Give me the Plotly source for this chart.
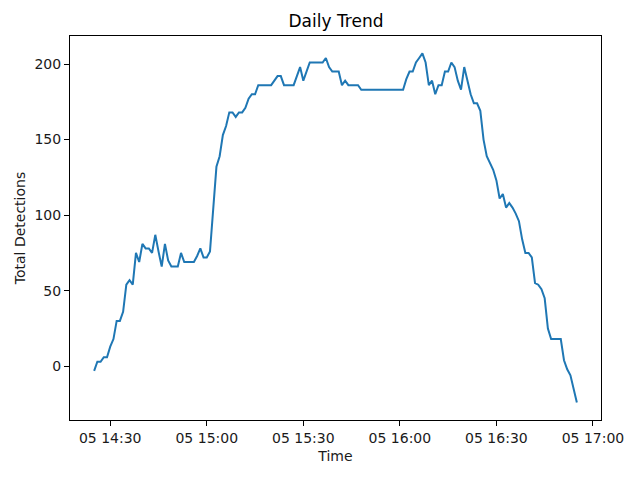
import pandas as pd
import plotly.graph_objects as go

start_time = "2024-03-05 14:25"
detections = [
    -3, 3, 3, 6, 6, 13, 18, 30, 30, 36,
    54, 57, 54, 75, 69, 81, 78, 78, 75, 87,
    76, 66, 81, 70, 66, 66, 66, 75, 69, 69,
    69, 69, 73, 78, 72, 72,
    76, 105, 132, 139, 153, 159, 168, 168, 165, 168,
    168, 171, 177, 180, 180, 186, 186, 186, 186, 186,
    189, 192, 192, 186, 186, 186, 186, 192, 198, 189,
    195, 201, 201, 201, 201, 201, 204, 198, 195, 195,
    195, 186, 189, 186, 186, 186, 186, 183,
    183, 183, 183, 183, 183, 183, 183, 183, 183, 183, 183, 183, 183,
    190, 195, 195, 201, 204, 207, 201, 186, 189, 180,
    186, 186, 195, 195, 201, 198, 189, 183, 198, 189,
    180, 174, 174, 169, 150, 139, 135, 130, 123, 111,
    114, 105, 108, 105, 101, 96, 84, 75, 75, 72,
    55, 54, 51, 45, 25, 18, 18, 18, 18, 4,
    -2, -6, -15, -24,
]
times = pd.date_range(start_time, periods=len(detections), freq="min")

x_tick_vals = ["2024-03-05 14:30", "2024-03-05 15:00", "2024-03-05 15:30",
               "2024-03-05 16:00", "2024-03-05 16:30", "2024-03-05 17:00"]
x_tick_text = ["05 14:30", "05 15:00", "05 15:30", "05 16:00", "05 16:30", "05 17:00"]
y_tick_vals = [0, 50, 100, 150, 200]

fig = go.Figure(go.Scatter(x=times, y=detections, mode="lines",
                           line=dict(color="#1f77b4", width=2)))

font = dict(family="DejaVu Sans", size=14, color="#1a1a1a")
axis_common = dict(showgrid=False, zeroline=False, showline=True, linecolor="black",
                   linewidth=1, mirror=True, ticks="outside", ticklen=5, tickwidth=1,
                   tickcolor="black", tickfont=font, automargin=False)
# page body has an 8px default margin, so the figure is sized/offset to compensate
fig.update_layout(
    width=626, height=470,
    margin=dict(l=62, r=33, t=28, b=58),
    paper_bgcolor="white", plot_bgcolor="white",
    font=font,
    showlegend=False,
    title=dict(text="Daily Trend", x=(336 - 8) / 626, xref="container", y=1 - 13 / 470, yref="container",
               yanchor="middle", xanchor="center", font=dict(family="DejaVu Sans", size=17, color="black")),
    xaxis=dict(axis_common, range=["2024-03-05 14:17:30", "2024-03-05 17:02:30"],
               tickvals=x_tick_vals, ticktext=x_tick_text,
               title=dict(text="Time", font=font, standoff=6)),
    yaxis=dict(axis_common, range=[-35.55, 218.55], tickvals=y_tick_vals,
               title=dict(text="Total Detections", font=font, standoff=5)),
)
fig.write_html("out.html")
